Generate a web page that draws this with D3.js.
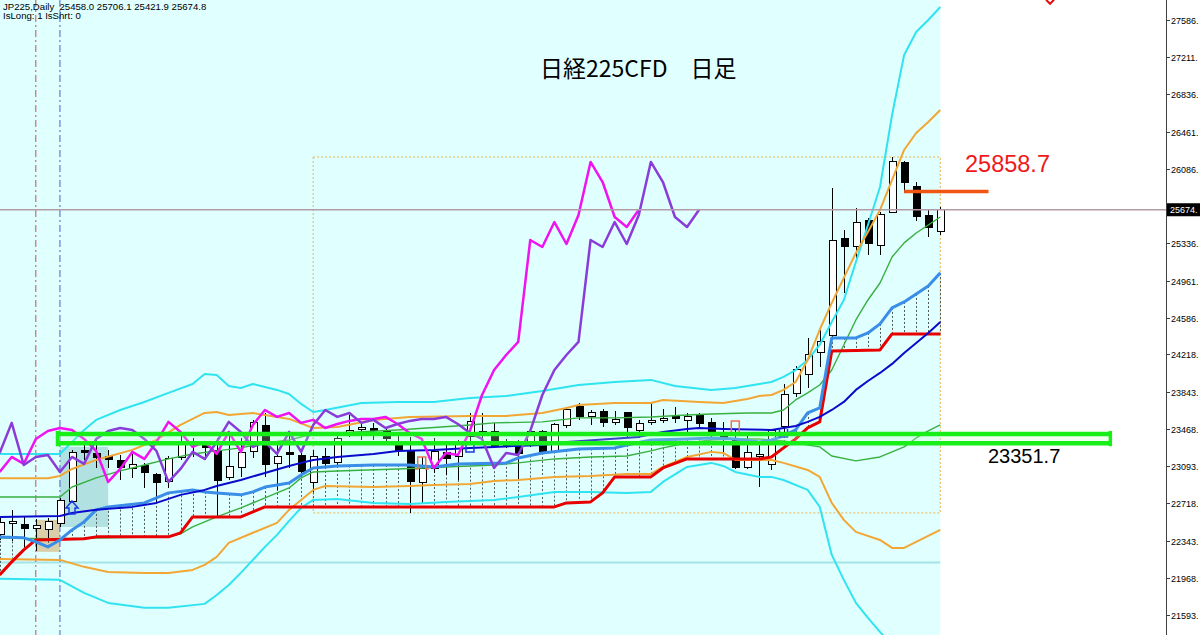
<!DOCTYPE html>
<html><head><meta charset="utf-8">
<script src="https://cdn.jsdelivr.net/npm/d3@7"></script>
<style>body{margin:0;background:#fff}svg{display:block}text{white-space:pre}</style>
</head><body><svg id="c" width="1200" height="635"></svg>
<script>
// ---------------- DATA ----------------
const firstIndex = -1;   // first (partly visible) candle index
const opens  = [22400,22521,22500,22460,22450,22510,22732,23246,23215,23185,23145,23064,23094,23004,22933,23175,23316,23326,23246,22974,23074,23236,23497,23115,23225,23195,22923,23185,23125,23397,23467,23467,23447,23336,23236,22923,23064,23225,23185,23387,23407,23437,23296,23316,23316,23437,23236,23497,23689,23588,23638,23528,23628,23447,23538,23548,23598,23548,23598,23528,23387,23346,23074,23195,23104,23487,23819,24011,24232,24404,25390,25300,25562,25310,25652,26146,25914,25612,25458.0];
const highs  = [22571,22652,22581,22561,22571,22772,23256,23326,23356,23256,23205,23215,23125,23024,23195,23437,23376,23346,23376,23437,23376,23558,23628,23306,23437,23236,23256,23276,23407,23608,23538,23528,23477,23427,23387,23185,23376,23326,23356,23628,23628,23528,23366,23356,23457,23457,23528,23689,23729,23658,23668,23648,23638,23558,23729,23668,23689,23628,23628,23578,23538,23457,23407,23306,23457,23920,24101,24383,24464,25894,25471,25693,25592,25652,26206,26166,25954,25672,25706.1];
const lows   = [22349,22339,22279,22239,22370,22480,22722,23155,23074,23074,22953,22974,22873,22722,22873,23155,23185,23155,22581,22953,22984,23175,22984,22853,23074,23004,22832,23074,23104,23387,23356,23356,23306,23195,22621,22732,23024,23004,22953,23326,23356,23276,23276,22953,23286,23225,23225,23477,23558,23507,23487,23507,23376,23376,23507,23528,23528,23427,23487,23356,23236,23064,23064,22882,23054,23376,23789,23880,24091,24394,24837,25149,25219,25219,25642,25844,25562,25400,25421.9];
const closes = [22521,22531,22460,22490,22531,22742,23225,23236,23175,23155,23074,23104,23024,22923,23165,23336,23326,23276,22943,23084,23225,23528,23104,23185,23205,23034,23185,23115,23366,23447,23477,23457,23366,23246,22933,23064,23236,23165,23336,23538,23437,23286,23336,23215,23437,23236,23507,23658,23588,23628,23528,23558,23477,23517,23548,23568,23568,23588,23517,23427,23366,23074,23225,23205,23447,23809,24061,24212,24343,25370,25300,25551,25330,25622,26156,25954,25602,25501,25674.8];

// lagging lines (start at index -1)
const magentaLag = [23034,23185,23115,23366,23447,23477,23457,23366,23246,22933,23064,23236,23165,23336,23538,23437,23286,23336,23215,23437,23236,23507,23658,23588,23628,23528,23558,23477,23517,23548,23568,23568,23588,23517,23427,23366,23074,23225,23205,23447,23809,24061,24212,24343,25370,25300,25551,25330,25622,26156,25954,25602,25501,25674.8];
const purpleLag = [23225,23528,23104,23185,23205,23034,23185,23115,23366,23447,23477,23457,23366,23246,22933,23064,23236,23165,23336,23538,23437,23286,23336,23215,23437,23236,23507,23658,23588,23628,23528,23558,23477,23517,23548,23568,23568,23588,23517,23427,23366,23074,23225,23205,23447,23809,24061,24212,24343,25370,25300,25551,25330,25622,26156,25954,25602,25501,25674.8];

// bands: [candle index, price]
const bbUpper3 = [[-1,23215],[4,23215],[5,23336],[6,23457],[7,23558],[9,23658],[11,23739],[13,23830],[15,23920],[16,24021],[17,24011],[18,23900],[19,23880],[20,23920],[21,23890],[22,23860],[23,23819],[24,23719],[25,23638],[26,23658],[29,23729],[32,23739],[35,23739],[38,23779],[41,23799],[44,23850],[47,23910],[50,23940],[53,23961],[55,23900],[58,23860],[60,23880],[62,23920],[63,23940],[64,23991],[65,24060],[66,24162],[67,24313],[68,24545],[69,24766],[70,25149],[71,25521],[72,25904],[73,26629],[74,27233],[75,27465],[76,27586],[77,27717]];
const bbLower3 = [[-1,21957],[4,21947],[6,21816],[8,21715],[11,21665],[13,21665],[16,21705],[17,21795],[18,21896],[19,22017],[20,22148],[21,22279],[22,22400],[23,22541],[24,22672],[25,22752],[27,22762],[30,22722],[33,22712],[36,22732],[40,22752],[42,22782],[45,22833],[48,22833],[51,22823],[53,22833],[54,22933],[56,23084],[58,23125],[59,23094],[60,23034],[62,22984],[63,22984],[64,22953],[66,22853],[67,22683],[68,22198],[69,21947],[70,21715],[71,21564],[72,21423],[73,21294],[74,21150]];
const bbUpper2 = [[-1,22970],[3,22970],[4,22994],[5,23064],[7,23155],[10,23256],[12,23356],[14,23507],[16,23628],[17,23638],[18,23608],[20,23628],[22,23588],[23,23568],[25,23477],[27,23487],[30,23558],[33,23588],[38,23598],[41,23598],[44,23628],[46,23678],[47,23709],[50,23729],[53,23729],[54,23759],[57,23739],[59,23729],[61,23769],[62,23799],[63,23809],[64,23860],[65,23940],[66,24162],[67,24466],[68,24736],[69,24989],[70,25240],[71,25451],[72,25672],[73,25975],[74,26277],[75,26448],[76,26559],[77,26680]];
const bbLower2 = [[-1,22158],[4,22148],[6,22078],[8,22027],[11,22017],[13,22017],[15,22047],[16,22098],[17,22179],[18,22320],[20,22421],[22,22521],[23,22652],[24,22752],[25,22853],[26,22893],[30,22883],[33,22893],[35,22903],[38,22913],[40,22943],[42,22953],[45,22984],[48,22994],[51,23014],[53,23014],[54,23084],[56,23185],[58,23236],[59,23225],[60,23155],[63,23155],[64,23125],[66,23054],[67,22984],[68,22722],[69,22551],[70,22430],[72,22349],[73,22269],[74,22269],[75,22329],[77,22450]];
const bbUpper1 = [[-1,22782],[4,22782],[5,22882],[7,22974],[9,23044],[11,23104],[13,23165],[15,23215],[17,23246],[19,23276],[21,23326],[23,23356],[25,23417],[27,23427],[32,23457],[38,23507],[40,23528],[44,23538],[47,23578],[50,23578],[53,23588],[56,23608],[58,23618],[61,23628],[63,23628],[64,23658],[65,23759],[66,23830],[67,23910],[68,24061],[69,24313],[70,24565],[71,24766],[72,24937],[73,25199],[74,25341],[75,25441],[76,25521],[77,25602]];
const bbLower1 = [[-1,22370],[4,22360],[8,22370],[13,22380],[14,22410],[15,22480],[17,22581],[19,22672],[21,22772],[23,22873],[24,22974],[25,23034],[27,23044],[32,23064],[38,23094],[40,23104],[42,23125],[45,23165],[48,23185],[51,23195],[53,23246],[54,23276],[56,23326],[58,23356],[60,23366],[62,23366],[64,23346],[65,23326],[67,23286],[68,23195],[70,23145],[72,23185],[74,23286],[75,23376],[76,23447],[77,23507]];
const smaMid = [[-1,22581],[4,22591],[5,22621],[7,22652],[10,22682],[12,22722],[14,22803],[16,22853],[17,22893],[19,22953],[21,23024],[23,23094],[24,23125],[25,23155],[27,23185],[30,23215],[32,23246],[35,23256],[38,23276],[40,23286],[44,23306],[46,23336],[52,23387],[54,23437],[56,23467],[57,23477],[59,23467],[63,23457],[64,23477],[65,23497],[66,23538],[67,23588],[68,23658],[69,23739],[70,23860],[71,23950],[72,24031],[73,24122],[74,24232],[75,24333],[76,24434],[77,24545]];
const spanA = [[-1,22380],[1,22370],[2,22329],[3,22279],[4,22349],[5,22450],[6,22531],[7,22652],[8,22682],[11,22722],[13,22823],[15,22853],[16,22833],[17,22823],[19,22803],[20,22833],[21,22882],[23,22923],[24,23004],[25,23074],[27,23094],[30,23104],[33,23104],[35,23084],[37,23115],[41,23125],[42,23175],[44,23225],[47,23266],[50,23276],[51,23306],[53,23356],[56,23366],[58,23376],[60,23366],[62,23336],[63,23356],[64,23397],[65,23457],[66,23628],[67,23679],[68,24384],[70,24384],[71,24434],[72,24525],[73,24686],[74,24746],[75,24827],[76,24907],[77,25039]];
const spanB = [[-1,21997],[0,22128],[1,22249],[2,22349],[6,22360],[7,22380],[13,22380],[14,22420],[15,22581],[19,22581],[20,22631],[21,22682],[45,22682],[46,22722],[48,22732],[49,22823],[50,22984],[53,22984],[54,23074],[56,23165],[62,23165],[63,23185],[64,23276],[65,23366],[66,23477],[67,23538],[68,24253],[72,24263],[73,24424],[77,24424]];

// levels and objects
const currentPrice = 25674.8;
const resistance = {value:25858.7, from:74, to:81};
const supportBand = {top:23417, bottom:23323, from:3.8, to:91.1, label:23351.7};
const rangeBox = {from:25, to:77, top:26206, bottom:22621};
const hLevel = 22121;
const tealBox = {from:4, to:8, top:23286, bottom:22480};
const tanBox = {from:2, to:4, top:22551, bottom:22229};
const vLines = [{index:2, color:"#c0505a"}, {index:4, color:"#4a5fd0"}];
const upArrows = [[5,22722]];
const blueMarks = [[38,23326],[64,23477]];
const orangeMarks = [[34,23185],[60,23548]];
const cornerMark = [86.1, 27790];

const tickValues = [27586,27211,26836,26461,26086,25711,25336,24961,24586,24218,23843,23468,23093,22718,22343,21968,21593];
const tickLabels = ["27586.","27211.","26836.","26461.","26086.","25711.","25336.","24961.","24586.","24218.","23843.","23468.","23093.","22718.","22343.","21968.","21593."];
const headerLines = ["JP225,Daily  25458.0 25706.1 25421.9 25674.8", "IsLong: 1 IsShrt: 0"];
const titleText = "日経225CFD\u3000日足";

// ---------------- DRAW ----------------
const W = 1200, H = 635, axisX = 1166;
const svg = d3.select("#c");
const x = d3.scaleLinear().domain([0, 77]).range([11.7, 940.3]);
const y = d3.scaleLinear().domain([21593, 27586]).range([615, 20]);
const idx = d3.range(firstIndex, firstIndex + closes.length);

svg.append("defs").append("clipPath").attr("id","plot")
  .append("rect").attr("x",0).attr("y",0).attr("width",axisX).attr("height",H);

svg.append("rect").attr("width",W).attr("height",H).attr("fill","#ffffff");
svg.append("rect").attr("x",0).attr("y",0).attr("width",x(77)).attr("height",H).attr("fill","#e0ffff");

const g = svg.append("g").attr("clip-path","url(#plot)");

// shaded boxes
g.append("rect").attr("x",x(tealBox.from)).attr("y",y(tealBox.top))
  .attr("width",x(tealBox.to)-x(tealBox.from)).attr("height",y(tealBox.bottom)-y(tealBox.top))
  .attr("fill","#a8dcdc").attr("opacity",0.85);
g.append("rect").attr("x",x(tanBox.from)).attr("y",y(tanBox.top))
  .attr("width",x(tanBox.to)-x(tanBox.from)).attr("height",y(tanBox.bottom)-y(tanBox.top))
  .attr("fill","#d8caa2").attr("opacity",0.9);

// horizontal light level
g.append("line").attr("x1",0).attr("x2",x(77)).attr("y1",y(hLevel)).attr("y2",y(hLevel))
  .attr("stroke","#a4e4e6").attr("stroke-width",2);

// range box (dotted)
g.append("rect").attr("x",x(rangeBox.from)).attr("y",y(rangeBox.top))
  .attr("width",x(rangeBox.to)-x(rangeBox.from)).attr("height",y(rangeBox.bottom)-y(rangeBox.top))
  .attr("fill","none").attr("stroke","#e6b04a").attr("stroke-width",1).attr("stroke-dasharray","2,2");

// vertical dash-dot lines
vLines.forEach(v => {
  g.append("line").attr("x1",x(v.index)).attr("x2",x(v.index)).attr("y1",0).attr("y2",H)
    .attr("stroke",v.color).attr("stroke-width",1).attr("stroke-dasharray","7,3,2,3");
});

// cloud hatch
function interp(pts, i){
  for (let k=0;k<pts.length-1;k++){
    const a=pts[k], b=pts[k+1];
    if (i>=a[0] && i<=b[0]) return a[1]+(b[1]-a[1])*(i-a[0])/(b[0]-a[0]);
  }
  return null;
}
idx.forEach(i => {
  const a = interp(spanA,i), b = interp(spanB,i);
  if (a==null || b==null) return;
  g.append("line").attr("x1",Math.round(x(i))+0.5).attr("x2",Math.round(x(i))+0.5)
    .attr("y1",y(a)).attr("y2",y(b))
    .attr("stroke","#505a5a").attr("stroke-width",1).attr("stroke-dasharray","2,2");
});

// candles
const cg = g.append("g").attr("shape-rendering","crispEdges");
idx.forEach((i,k) => {
  const cx = Math.round(x(i)) + 0.5;
  const o = opens[k], h = highs[k], l = lows[k], c = closes[k];
  cg.append("line").attr("x1",cx).attr("x2",cx).attr("y1",y(h)).attr("y2",y(l))
    .attr("stroke","#000").attr("stroke-width",1);
  const top = Math.min(y(o),y(c)), bot = Math.max(y(o),y(c));
  cg.append("rect").attr("x",cx-3.5).attr("y",top).attr("width",7).attr("height",Math.max(1.5,bot-top))
    .attr("fill", c>=o ? "#ffffff" : "#000000").attr("stroke","#000").attr("stroke-width",1);
});

// lines
const line = d3.line().x(d=>x(d[0])).y(d=>y(d[1]));
function drawLine(pts,color,w){
  g.append("path").attr("d",line(pts)).attr("fill","none").attr("stroke",color)
    .attr("stroke-width",w).attr("stroke-linejoin","round");
}
drawLine(bbUpper3,"#2fe4f0",2);
drawLine(bbLower3,"#2fe4f0",2);
drawLine(bbUpper2,"#f2a634",2);
drawLine(bbLower2,"#f2a634",2);
drawLine(bbUpper1,"#38b040",1.4);
drawLine(bbLower1,"#38b040",1.4);
drawLine(spanB,"#e80000",3);
drawLine(spanA,"#3a8ee8",3);
drawLine(smaMid,"#0a0acc",2);
drawLine(magentaLag.map((v,k)=>[firstIndex+k,v]),"#f012f0",2.5);
drawLine(purpleLag.map((v,k)=>[firstIndex+k,v]),"#8a3cd8",2.5);

// markers
upArrows.forEach(m => {
  const cx = x(m[0]), cy = y(m[1]);
  g.append("path").attr("d",`M${cx},${cy-2} L${cx+6},${cy+5} L${cx+3},${cy+5} L${cx+3},${cy+11} L${cx-3},${cy+11} L${cx-3},${cy+5} L${cx-6},${cy+5} Z`)
    .attr("fill","none").attr("stroke","#1a3ae0").attr("stroke-width",1.5);
});
blueMarks.forEach(m => {
  const cx = x(m[0]), cy = y(m[1]);
  g.append("path").attr("d",`M${cx-4},${cy+1} L${cx-4},${cy+9} L${cx+4},${cy+9} L${cx+4},${cy+1}`)
    .attr("fill","none").attr("stroke","#1a3ae0").attr("stroke-width",1.5);
});
orangeMarks.forEach(m => {
  const cx = x(m[0]), cy = y(m[1]);
  g.append("path").attr("d",`M${cx-7},${cy+12} L${cx-4},${cy+12} L${cx-4},${cy} L${cx+4},${cy} L${cx+4},${cy+12} L${cx+7},${cy+12}`)
    .attr("fill","none").attr("stroke","#f07050").attr("stroke-width",1.5);
});

// support band
const sb = supportBand;
g.append("rect").attr("x",x(sb.from)).attr("y",y(sb.top)).attr("width",x(sb.to)-x(sb.from))
  .attr("height",y(sb.bottom)-y(sb.top)).attr("fill","#c8ffc8").attr("opacity",0.25);
[sb.top, sb.bottom].forEach(v => {
  g.append("line").attr("x1",x(sb.from)).attr("x2",x(sb.to)).attr("y1",y(v)).attr("y2",y(v))
    .attr("stroke","#18ee18").attr("stroke-width",4.5);
});
[sb.from, sb.to].forEach(i => {
  g.append("line").attr("x1",x(i)).attr("x2",x(i)).attr("y1",y(sb.top)-3).attr("y2",y(sb.bottom)+3)
    .attr("stroke","#18ee18").attr("stroke-width",3.5);
});

// resistance line
g.append("line").attr("x1",x(resistance.from)).attr("x2",x(resistance.to))
  .attr("y1",y(resistance.value)).attr("y2",y(resistance.value))
  .attr("stroke","#f05514").attr("stroke-width",3.5);

// current price line
g.append("line").attr("x1",0).attr("x2",axisX).attr("y1",y(currentPrice)).attr("y2",y(currentPrice))
  .attr("stroke","#b39ca5").attr("stroke-width",1.5);

// corner mark
g.append("path").attr("d",`M${x(cornerMark[0])-4},${y(cornerMark[1])} L${x(cornerMark[0])},${y(cornerMark[1])+4} L${x(cornerMark[0])+4},${y(cornerMark[1])}`)
  .attr("fill","none").attr("stroke","#e01010").attr("stroke-width",2);

// texts
svg.append("text").attr("x",3).attr("y",9.5).attr("font-family","Liberation Sans, Arial, sans-serif")
  .attr("font-size",9.6).attr("fill","#000").text(headerLines[0]);
svg.append("text").attr("x",3).attr("y",19).attr("font-family","Liberation Sans, Arial, sans-serif")
  .attr("font-size",9.6).attr("fill","#000").text(headerLines[1]);
svg.append("text").attr("x",540).attr("y",77).attr("font-family","Noto Sans CJK JP, sans-serif")
  .attr("font-size",23).attr("fill","#000").text(titleText);
svg.append("text").attr("x",965).attr("y",y(resistance.value)-19).attr("font-family","Liberation Sans, Arial, sans-serif")
  .attr("font-size",23.5).attr("fill","#f01818").text(resistance.value.toFixed(1));
svg.append("text").attr("x",988).attr("y",y(sb.label)+23).attr("font-family","Liberation Sans, Arial, sans-serif")
  .attr("font-size",20).attr("fill","#000").text(sb.label.toFixed(1));

// right axis
svg.append("line").attr("x1",axisX+0.5).attr("x2",axisX+0.5).attr("y1",0).attr("y2",H)
  .attr("stroke","#404040").attr("stroke-width",1);
tickValues.forEach((v,k) => {
  const ty = Math.round(y(v)) + 0.5;
  svg.append("line").attr("x1",axisX).attr("x2",axisX+4).attr("y1",ty).attr("y2",ty).attr("stroke","#404040");
  svg.append("text").attr("x",axisX+5).attr("y",ty+3.5).attr("font-family","Liberation Sans, Arial, sans-serif")
    .attr("font-size",9).attr("fill","#000").text(tickLabels[k]);
});
// current price tag
const cpY = y(currentPrice);
svg.append("rect").attr("x",axisX+1).attr("y",cpY-6.5).attr("width",W-axisX-1).attr("height",13).attr("fill","#000");
svg.append("text").attr("x",axisX+4).attr("y",cpY+3.5).attr("font-family","Liberation Sans, Arial, sans-serif")
  .attr("font-size",9).attr("fill","#fff").text(Math.floor(currentPrice) + ".");
</script>
</body></html>
